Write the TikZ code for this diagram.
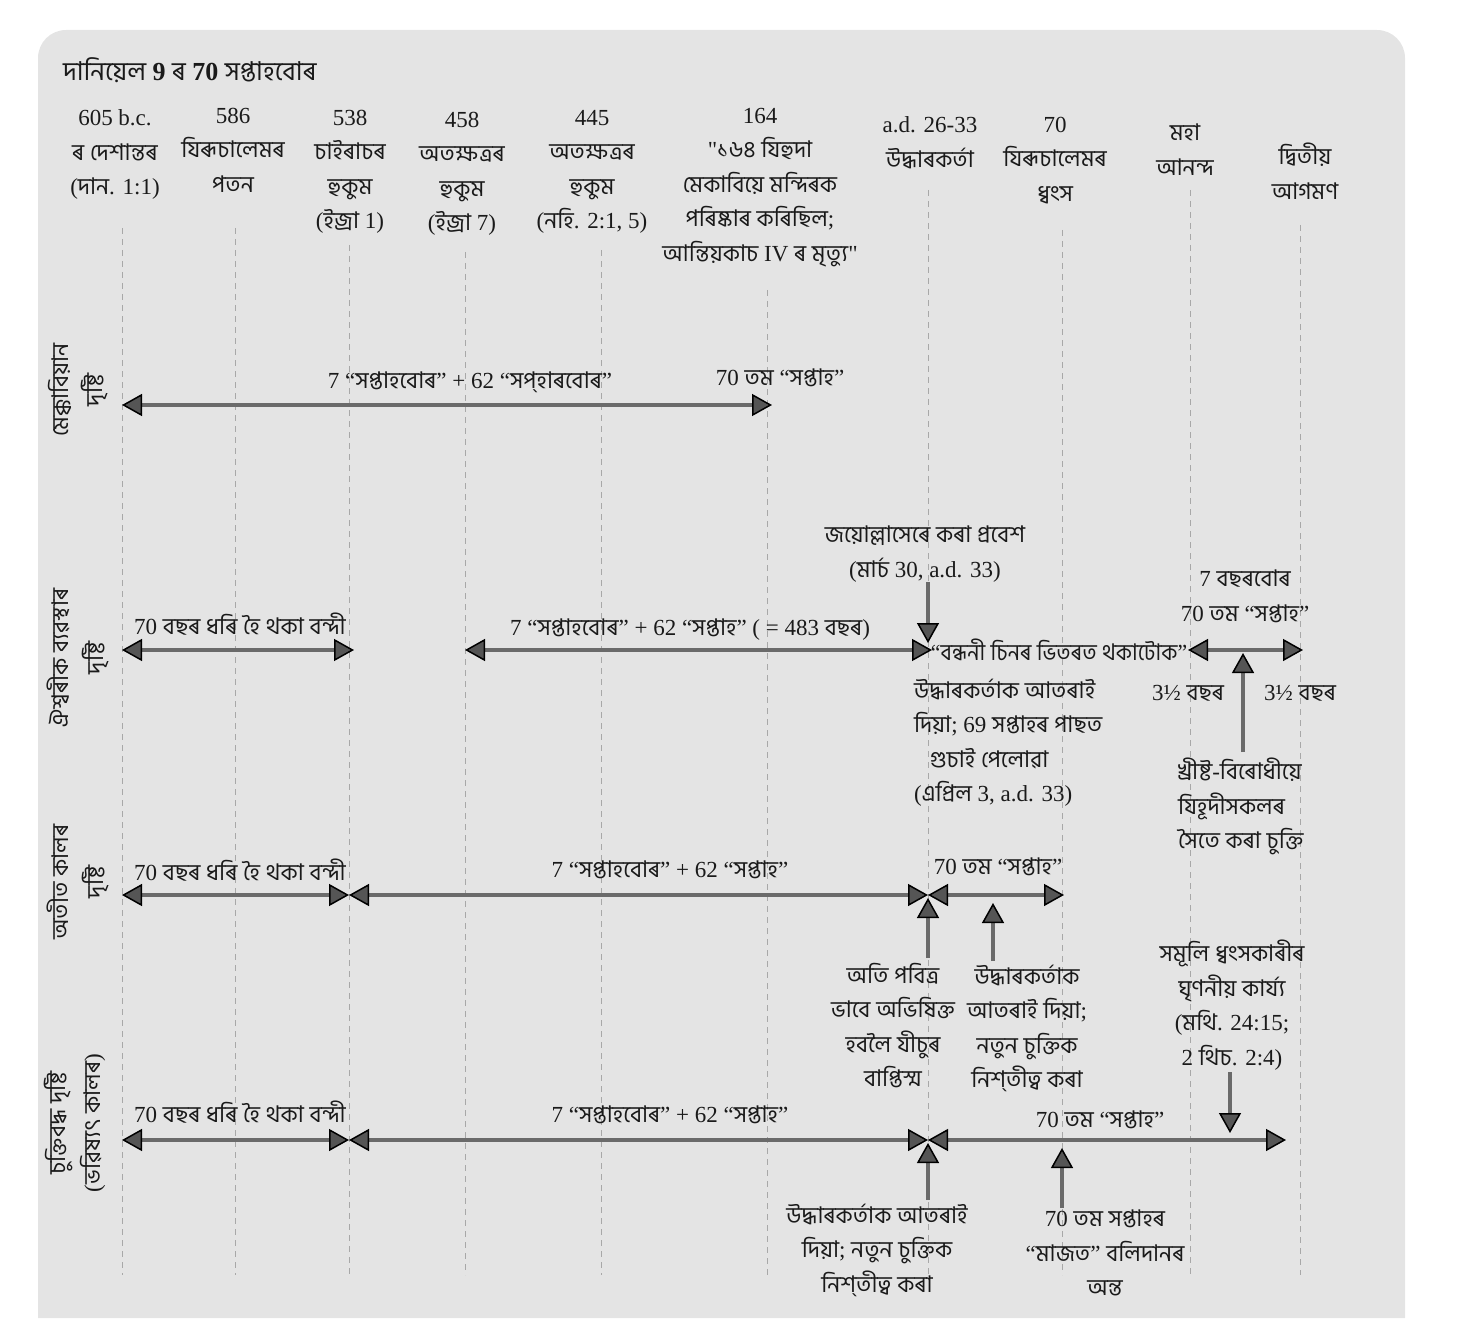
\documentclass[tikz,border=0pt]{standalone}
\usepackage{fontspec}
\setmainfont{Liberation Serif}
\newfontfamily\rawserif{Liberation Serif}
\newfontfamily\bnfont{Hind Siliguri}[Script=Bengali]
\usetikzlibrary{arrows.meta}

% Assamese letters are set in the Bengali-script face, everything else in the serif
\XeTeXinterchartokenstate=1
\newXeTeXintercharclass\AsClass
\count255="0980
\loop\ifnum\count255<"0A00
  \XeTeXcharclass\count255=\AsClass
  \advance\count255 by 1
\repeat
\XeTeXcharclass"200C=\AsClass
\XeTeXcharclass"200D=\AsClass
\XeTeXinterchartoks 0 \AsClass={\bnfont}
\XeTeXinterchartoks 4095 \AsClass={\bnfont}
\XeTeXinterchartoks \AsClass 0={\rmfamily}
\XeTeXinterchartoks \AsClass 4095={\rmfamily}

% straight double quote (no TeX quote mapping)
\newcommand{\sq}{{\rawserif\symbol{34}}}

\definecolor{panel}{HTML}{E4E4E4}
\definecolor{linegray}{HTML}{6A6A6A}
\definecolor{tipgray}{HTML}{555555}
\definecolor{guidegray}{HTML}{A8A8A8}
\definecolor{ink}{HTML}{1A1A1A}

\begin{document}
\begin{tikzpicture}[x=1pt,y=-1pt,
  every node/.style={inner sep=0pt, outer sep=0pt, text=ink,
    font=\fontsize{23}{34.5}\selectfont},
  lbl/.style={align=center},
  lblL/.style={align=left},
  bar/.style={line width=4pt, draw=linegray},
  guide/.style={draw=guidegray, line width=1pt, dash pattern=on 6pt off 5pt},
  >={Triangle[length=20pt,width=22pt,line width=1.5pt,color=black,fill=tipgray]}]

\useasboundingbox (0,0) rectangle (1464,1324);
% panel
\fill[panel] (38,1318) [rounded corners=28pt] -- (38,30) -- (1405,30) [sharp corners] -- (1405,1318) -- cycle;

% title
\node[anchor=west, font=\fontsize{26}{34}\selectfont] (title) at (63,70) {দানিয়েল {\bfseries 9} ৰ {\bfseries 70} সপ্তাহবোৰ};

% column headings
\node[lbl, anchor=north] (h605) at (115,110) {605 b.c.\\ৰ দেশান্তৰ\\(দান. 1:1)};
\node[lbl, anchor=north] (h586) at (233,108) {586\\যিৰূচালেমৰ\\পতন};
\node[lbl, anchor=north] (h538) at (350,110) {538\\চাইৰাচৰ\\হুকুম\\(ইজ্ৰা 1)};
\node[lbl, anchor=north] (h458) at (462,112) {458\\অতক্ষত্ৰৰ\\হুকুম\\(ইজ্ৰা 7)};
\node[lbl, anchor=north] (h445) at (592,110) {445\\অতক্ষত্ৰৰ\\হুকুম\\(নহি. 2:1, 5)};
\node[lbl, anchor=north] (h164) at (760,108) {164\\\sq১৬৪ যিহুদা\\মেকাবিয়ে মন্দিৰক\\পৰিষ্কাৰ কৰিছিল;\\আন্তিয়কাচ IV ৰ মৃত্যু\sq};
\node[lbl, anchor=north] (had) at (930,117) {a.d. 26-33\\উদ্ধাৰকৰ্তা};
\node[lbl, anchor=north] (h70) at (1055,117) {70\\যিৰূচালেমৰ\\ধ্বংস};
\node[lbl, anchor=north] (hgt) at (1185,124) {মহা\\আনন্দ};
\node[lbl, anchor=north] (hsc) at (1305,143) {দ্বিতীয়\\আগমণ};

% dashed guides
\foreach \n/\x/\y in {a/122/228, b/235/228, c/349/245, d/465/252, e/601/250,
                      f/767/290, g/928/190, h/1062/230, i/1190/190, j/1300/225}{
  \coordinate (gt\n) at (\x,\y);
  \coordinate (gb\n) at (\x,1275);
  \draw[guide] (gt\n) -- (gb\n);
}

% row labels
\node[lbl, rotate=90] (v1) at (78,390) {মেক্কাবিয়ান\\দৃষ্টি};
\node[lbl, rotate=90] (v2) at (78,658) {ঐশ্বৰীক ব্যৱস্থাৰ\\দৃষ্টি};
\node[lbl, rotate=90] (v3) at (78,882) {অতীত কালৰ\\দৃষ্টি};
\node[lbl, rotate=90] (v4) at (75,1123) {চুক্তিবদ্ধ দৃষ্টি\\(ভৱিষ্যৎ কালৰ)};

% ---- row 1
\coordinate (r1a) at (122,405);
\coordinate (r1b) at (772,405);
\draw[bar,<->] (r1a) -- (r1b);
\node (t1a) at (470,382) {7 “সপ্তাহবোৰ” + 62 “সপ্হাৰবোৰ”};
\node (t1b) at (780,378) {70 তম “সপ্তাহ”};

% ---- row 2
\coordinate (r2a) at (122,650);
\coordinate (r2b) at (354,650);
\coordinate (r2c) at (465,650);
\coordinate (r2d) at (932,650);
\coordinate (r2e) at (1188,650);
\coordinate (r2f) at (1303,650);
\draw[bar,<->] (r2a) -- (r2b);
\draw[bar,<->] (r2c) -- (r2d);
\draw[bar,<->] (r2e) -- (r2f);
\node (t2a) at (240,624) {70 বছৰ ধৰি হৈ থকা বন্দী};
\node (t2b) at (690,630) {7 “সপ্তাহবোৰ” + 62 “সপ্তাহ” ( = 483 বছৰ)};
\node[xscale=0.94] (t2c) at (1059,650) {“বন্ধনী চিনৰ ভিতৰত থকাটোক”};
\node[lbl, anchor=north] (t2d) at (1245,570) {7 বছৰবোৰ\\70 তম “সপ্তাহ”};
\node (t2e) at (1188,693) {3½ বছৰ};
\node (t2f) at (1300,693) {3½ বছৰ};
\node[lbl, anchor=south] (entry) at (925,582) {জয়োল্লাসেৰে কৰা প্ৰবেশ\\(মাৰ্চ 30, a.d. 33)};
\coordinate (entryTip) at (928,643);
\draw[bar,->] (entry.south -| entryTip) -- (entryTip);
\node[lblL, anchor=north west] (t2g) at (914,679) {উদ্ধাৰকৰ্তাক আতৰাই\\দিয়া; 69 সপ্তাহৰ পাছত\\\hspace*{16pt}গুচাই পেলোৱা\\(এপ্ৰিল 3, a.d. 33)};
\node[lblL, anchor=north west] (anti) at (1178,758) {খ্ৰীষ্ট-বিৰোধীয়ে\\যিহূদীসকলৰ\\সৈতে কৰা চুক্তি};
\coordinate (antiTip) at (1243,653);
\draw[bar,->] (1243,752) coordinate (antiFoot) -- (antiTip);

% ---- row 3
\coordinate (r3a) at (122,895);
\coordinate (r3b) at (349,895);
\coordinate (r3c) at (928,895);
\coordinate (r3d) at (1064,895);
\draw[bar,<->] (r3a) -- (r3b);
\draw[bar,<->] (r3b) -- (r3c);
\draw[bar,<->] (r3c) -- (r3d);
\node (t3a) at (240,870) {70 বছৰ ধৰি হৈ থকা বন্দী};
\node (t3b) at (670,870) {7 “সপ্তাহবোৰ” + 62 “সপ্তাহ”};
\node (t3c) at (998,867) {70 তম “সপ্তাহ”};
\node[lbl, anchor=north] (bapt) at (893,963) {অতি পবিত্ৰ\\ভাবে অভিষিক্ত\\হবলৈ যীচুৰ\\বাপ্তিস্ম};
\node[lbl, anchor=north] (cut3) at (1027,965) {উদ্ধাৰকৰ্তাক\\আতৰাই দিয়া;\\নতুন চুক্তিক\\নিশ্‌তীত্ব কৰা};
\coordinate (baptTip) at (928,898);
\coordinate (cut3Tip) at (993,903);
\draw[bar,->] (928,958) coordinate (baptFoot) -- (baptTip);
\draw[bar,->] (993,961) coordinate (cut3Foot) -- (cut3Tip);
\node[lbl, anchor=north] (abom) at (1232,940) {সমূলি ধ্বংসকাৰীৰ\\ঘৃণনীয় কাৰ্য্য\\(মথি. 24:15;\\2 থিচ. 2:4)};
\coordinate (abomTip) at (1230,1133);
\draw[bar,->] (1230,1072) coordinate (abomFoot) -- (abomTip);

% ---- row 4
\coordinate (r4a) at (122,1140);
\coordinate (r4b) at (349,1140);
\coordinate (r4c) at (928,1140);
\coordinate (r4d) at (1286,1140);
\draw[bar,<->] (r4a) -- (r4b);
\draw[bar,<->] (r4b) -- (r4c);
\draw[bar,<->] (r4c) -- (r4d);
\node (t4a) at (240,1112) {70 বছৰ ধৰি হৈ থকা বন্দী};
\node (t4b) at (670,1115) {7 “সপ্তাহবোৰ” + 62 “সপ্তাহ”};
\node (t4c) at (1100,1120) {70 তম “সপ্তাহ”};
\node[lbl, anchor=north] (cut4) at (877,1204) {উদ্ধাৰকৰ্তাক আতৰাই\\দিয়া; নতুন চুক্তিক\\নিশ্‌তীত্ব কৰা};
\node[lbl, anchor=north] (mid4) at (1105,1210) {70 তম সপ্তাহৰ\\“মাজত” বলিদানৰ\\অন্ত};
\coordinate (cut4Tip) at (928,1143);
\coordinate (mid4Tip) at (1062,1148);
\draw[bar,->] (928,1200) coordinate (cut4Foot) -- (cut4Tip);
\draw[bar,->] (1062,1208) coordinate (mid4Foot) -- (mid4Tip);
\end{tikzpicture}
\end{document}
